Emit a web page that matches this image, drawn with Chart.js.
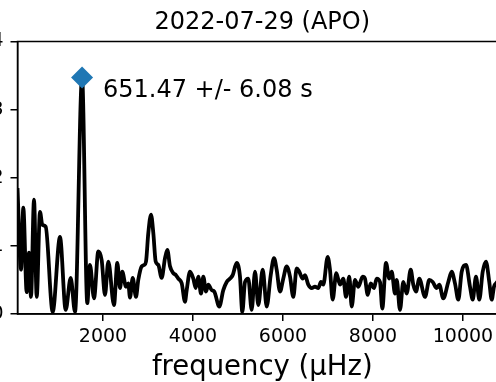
<!DOCTYPE html>
<html>
<head>
<meta charset="utf-8">
<script src="https://cdn.jsdelivr.net/npm/chart.js@4/dist/chart.umd.min.js"></script>
<style>
  html, body { margin: 0; padding: 0; background: #fff; overflow: hidden; }
  #page { position: relative; width: 496px; height: 382px; overflow: hidden; }
  #box { position: absolute; left: -40px; top: 0; width: 587px; height: 382px; }
</style>
</head>
<body>
<div id="page"><div id="box"><canvas id="chartLine"></canvas></div></div>
<script>
// periodogram
const freqs = [100,178,229,304,356,400,467,527,600,651,
  727,882,1044,1171,1282,1378,1535,1651,1711,1800,
  1896,1971,2044,2118,2244,2318,2378,2429,2511,2562,
  2600,2660,2733,2784,2860,2918,2956,3007,3067,3118,
  3171,3229,3304,3378,3429,3489,3562,3622,3673,3749,
  3822,3860,3933,4007,4060,4118,4178,4229,4289,4340,
  4416,4473,4584,4673,4749,4822,4882,4971,5044,5096,
  5156,5229,5304,5378,5451,5549,5638,5727,5800,5860,
  5933,6007,6082,6156,6229,6304,6362,6438,6489,6562,
  6638,6711,6784,6844,6896,6993,7044,7104,7184,7267,
  7340,7400,7473,7527,7600,7673,7771,7822,7882,7949,
  8022,8082,8156,8207,8289,8362,8416,8489,8527,8600,
  8673,8749,8838,8896,8956,9029,9156,9251,9327,9416,
  9473,9562,9673,9749,9822,9896,9971,10067,10156,10216,
  10289,10362,10438,10511,10584,10638,10689,10733,10822,10978];
const power = [1.85,0.65,1.56,0.32,0.9,0.25,1.68,0.25,1.5,1.31,
  1.28,0.03,1.13,0.06,0.53,0.03,3.47,0.16,0.72,0.23,
  0.92,0.79,0.28,0.77,0.13,0.75,0.38,0.62,0.4,0.45,
  0.24,0.53,0.25,0.5,0.7,0.72,0.77,1.19,1.46,1.19,
  0.77,0.72,0.53,0.82,0.94,0.7,0.6,0.57,0.52,0.45,
  0.18,0.35,0.62,0.52,0.38,0.55,0.3,0.55,0.33,0.43,
  0.35,0.33,0.11,0.35,0.47,0.52,0.57,0.75,0.55,0.03,
  0.47,0.52,0.06,0.62,0.13,0.65,0.11,0.57,0.82,0.65,
  0.33,0.52,0.7,0.55,0.25,0.67,0.62,0.52,0.57,0.43,
  0.38,0.4,0.38,0.47,0.43,0.84,0.65,0.21,0.6,0.43,
  0.52,0.25,0.55,0.11,0.5,0.4,0.55,0.52,0.28,0.45,
  0.38,0.52,0.47,0.08,0.75,0.52,0.62,0.3,0.5,0.06,
  0.47,0.3,0.65,0.43,0.33,0.52,0.25,0.5,0.47,0.38,
  0.43,0.23,0.47,0.62,0.45,0.21,0.62,0.72,0.4,0.21,
  0.55,0.21,0.62,0.77,0.47,0.21,0.4,0.45,0.5,0.45];

const peakFreq = [1535];
const peakPower = [3.47];

const xTicks = [2000, 4000, 6000, 8000, 10000];
const yTicks = [0, 1, 2, 3, 4];

const titleText = '2022-07-29 (APO)';
const noteText = '651.47 +/- 6.08 s';
const noteX = 2000;
const noteY = 3.19;

Chart.defaults.font.family = '"DejaVu Sans"';
Chart.defaults.color = '#000';

// box around the axes + the period label
const frame = {
  id: 'frame',
  afterDatasetsDraw(chart) {
    const {ctx, chartArea: a, scales: {x, y}} = chart;
    ctx.save();
    ctx.strokeStyle = '#000';
    ctx.lineWidth = 1.5;
    ctx.strokeRect(a.left, a.top, a.right - a.left, a.bottom - a.top);
    ctx.font = '24px "DejaVu Sans"';
    ctx.fillStyle = '#000';
    ctx.textBaseline = 'alphabetic';
    ctx.fillText(noteText, x.getPixelForValue(noteX), y.getPixelForValue(noteY));
    ctx.restore();
  }
};

const chartLine = document.getElementById('chartLine');

new Chart(chartLine, {
  type: 'line',
  data: {
    datasets: [{
      data: peakFreq.map((f, i) => ({x: f, y: peakPower[i]})),
      showLine: false,
      pointStyle: 'rectRot',
      pointRadius: 11,
      backgroundColor: '#1f77b4',
      borderColor: '#1f77b4',
      borderWidth: 0,
      order: 0
    }, {
      data: freqs.map((f, i) => ({x: f, y: power[i]})),
      borderColor: '#000',
      borderWidth: 3.8,
      pointRadius: 0,
      cubicInterpolationMode: 'monotone',
      order: 1
    }]
  },
  options: {
    responsive: true,
    maintainAspectRatio: false,
    animation: false,
    layout: { padding: { left: 0, top: 0, bottom: 0, right: 40 } },
    plugins: {
      legend: { display: false },
      tooltip: { enabled: false },
      title: {
        display: true,
        text: titleText,
        fullSize: false,
        color: '#000',
        font: { size: 24, weight: 'normal', lineHeight: 1.2 },
        padding: { top: 8.5, bottom: 4.2 }
      }
    },
    scales: {
      x: {
        type: 'linear',
        min: 100,
        max: 10978,
        afterBuildTicks: s => { s.ticks = xTicks.map(v => ({value: v})); },
        afterFit: s => { s.height = 68; },
        ticks: { font: { size: 19 }, padding: 5, maxRotation: 0, callback: v => String(v) },
        grid: { drawOnChartArea: false, tickLength: 7, color: '#000', lineWidth: 1.5 },
        border: { color: '#000', width: 1.5 },
        title: {
          display: true,
          text: 'frequency (μHz)',
          font: { size: 27.5, lineHeight: 1 },
          padding: { top: 0, bottom: 0.5 }
        }
      },
      y: {
        min: 0,
        max: 4,
        afterBuildTicks: s => { s.ticks = yTicks.map(v => ({value: v})); },
        afterFit: s => { s.width = 57.5; },
        ticks: { font: { size: 19 }, padding: 7, callback: v => String(v) },
        grid: { drawOnChartArea: false, tickLength: 7, color: '#000', lineWidth: 1.5 },
        border: { color: '#000', width: 1.5 }
      }
    }
  },
  plugins: [frame]
});
</script>
</body>
</html>
